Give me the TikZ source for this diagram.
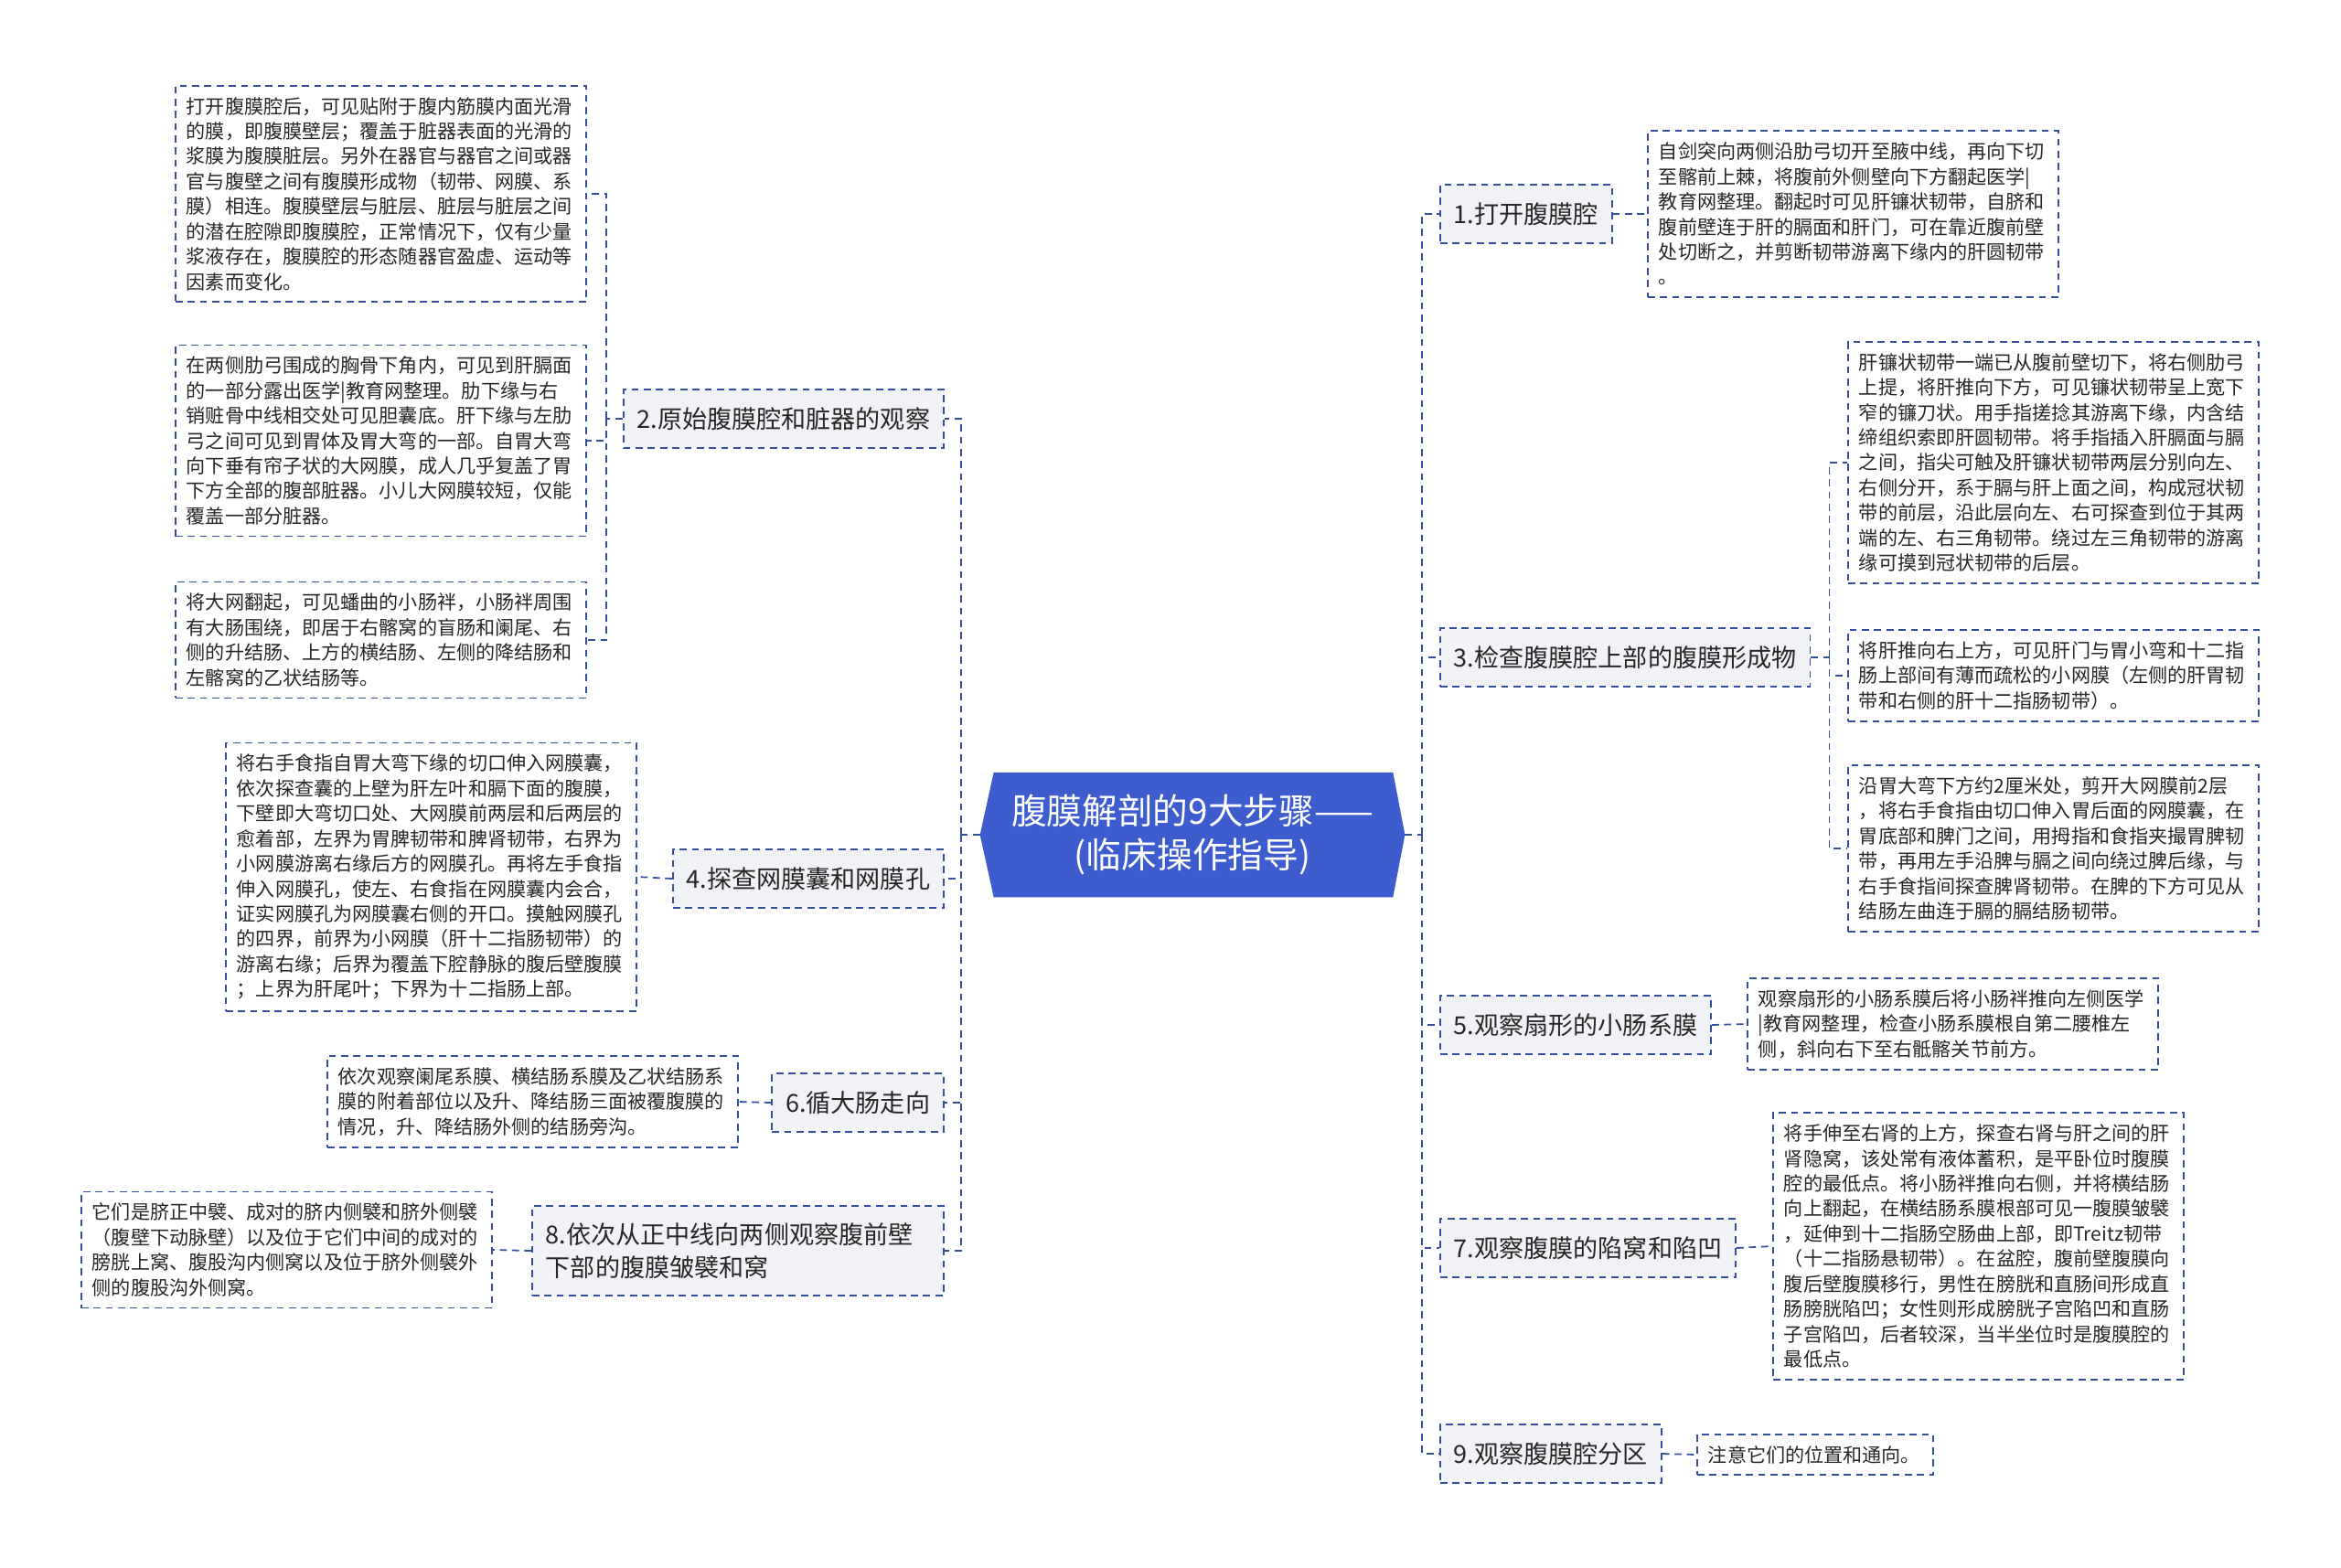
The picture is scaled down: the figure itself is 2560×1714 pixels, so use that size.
\documentclass[tikz,border=0pt]{standalone}
\usepackage{fontspec}
\setmainfont{Noto Sans CJK SC}
\usetikzlibrary{backgrounds}
\definecolor{linkblue}{RGB}{52,78,160}
\definecolor{rootblue}{RGB}{61,92,205}
\definecolor{tagfill}{RGB}{240,242,246}
\begin{document}
\begin{tikzpicture}[x=0.01cm, y=-0.01cm,
        link/.style={draw=linkblue, line width=0.5pt, dash pattern=on 2.2pt off 1.6pt},
        tag/.style={link, fill=tagfill, text=black!85, font=\fontsize{7.7pt}{10.3pt}\selectfont,
            inner xsep=0.15cm, minimum height=0.64cm, align=left},
        detail/.style={link, fill=white, text=black!85, font=\fontsize{6pt}{7.8pt}\selectfont,
            text width=4.25cm, inner xsep=0.12cm, inner ysep=0.125cm, align=left},
        root/.style={text=white, font=\fontsize{11pt}{13.5pt}\selectfont, align=center,
            minimum width=4.63cm, minimum height=1.35cm}]

    \useasboundingbox (0,0) rectangle (2560,1714);

    \node[root] (root) at (1304,913) {腹膜解剖的9大步骤——\\(临床操作指导)};
    \begin{scope}[on background layer]
        \fill[white] (0,0) rectangle (2560,1714);
        \fill[rootblue] (root.west) -- ([xshift=0.15cm]root.north west) -- ([xshift=-0.13cm]root.north east)
            -- (root.east) -- ([xshift=-0.13cm]root.south east) -- ([xshift=0.15cm]root.south west) -- cycle;
    \end{scope}

    \node[tag, anchor=west] (n1) at (1574,234) {1.打开腹膜腔};
    \node[tag, anchor=west] (n3) at (1574,719) {3.检查腹膜腔上部的腹膜形成物};
    \node[tag, anchor=west] (n5) at (1574,1121) {5.观察扇形的小肠系膜};
    \node[tag, anchor=west] (n7) at (1574,1365) {7.观察腹膜的陷窝和陷凹};
    \node[tag, anchor=west] (n9) at (1574,1590) {9.观察腹膜腔分区};

    \node[tag, anchor=east] (n2) at (1033,458) {2.原始腹膜腔和脏器的观察};
    \node[tag, anchor=east] (n4) at (1033,961) {4.探查网膜囊和网膜孔};
    \node[tag, anchor=east] (n6) at (1033,1206) {6.循大肠走向};
    \node[tag, anchor=east, text width=4.2cm, minimum height=0.98cm] (n8) at (1033,1368) {8.依次从正中线向两侧观察腹前壁\\下部的腹膜皱襞和窝};

    \node[detail, anchor=west] (r1) at (1801,234) {自剑突向两侧沿肋弓切开至腋中线，再向下切\\至髂前上棘，将腹前外侧壁向下方翻起医学|\\教育网整理。翻起时可见肝镰状韧带，自脐和\\腹前壁连于肝的膈面和肝门，可在靠近腹前壁\\处切断之，并剪断韧带游离下缘内的肝圆韧带\\。};
    \node[detail, anchor=west] (r3a) at (2020,506) {肝镰状韧带一端已从腹前壁切下，将右侧肋弓\\上提，将肝推向下方，可见镰状韧带呈上宽下\\窄的镰刀状。用手指搓捻其游离下缘，内含结\\缔组织索即肝圆韧带。将手指插入肝膈面与膈\\之间，指尖可触及肝镰状韧带两层分别向左、\\右侧分开，系于膈与肝上面之间，构成冠状韧\\带的前层，沿此层向左、右可探查到位于其两\\端的左、右三角韧带。绕过左三角韧带的游离\\缘可摸到冠状韧带的后层。};
    \node[detail, anchor=west] (r3b) at (2020,739) {将肝推向右上方，可见肝门与胃小弯和十二指\\肠上部间有薄而疏松的小网膜（左侧的肝胃韧\\带和右侧的肝十二指肠韧带）。};
    \node[detail, anchor=west] (r3c) at (2020,928) {沿胃大弯下方约2厘米处，剪开大网膜前2层\\，将右手食指由切口伸入胃后面的网膜囊，在\\胃底部和脾门之间，用拇指和食指夹撮胃脾韧\\带，再用左手沿脾与膈之间向绕过脾后缘，与\\右手食指间探查脾肾韧带。在脾的下方可见从\\结肠左曲连于膈的膈结肠韧带。};
    \node[detail, anchor=west] (r5) at (1910,1120) {观察扇形的小肠系膜后将小肠袢推向左侧医学\\|教育网整理，检查小肠系膜根自第二腰椎左\\侧，斜向右下至右骶髂关节前方。};
    \node[detail, anchor=west] (r7) at (1938,1363) {将手伸至右肾的上方，探查右肾与肝之间的肝\\肾隐窝，该处常有液体蓄积，是平卧位时腹膜\\腔的最低点。将小肠袢推向右侧，并将横结肠\\向上翻起，在横结肠系膜根部可见一腹膜皱襞\\，延伸到十二指肠空肠曲上部，即Treitz韧带\\（十二指肠悬韧带）。在盆腔，腹前壁腹膜向\\腹后壁腹膜移行，男性在膀胱和直肠间形成直\\肠膀胱陷凹；女性则形成膀胱子宫陷凹和直肠\\子宫陷凹，后者较深，当半坐位时是腹膜腔的\\最低点。};
    \node[detail, anchor=west, text width=2.34cm] (r9) at (1855,1591) {注意它们的位置和通向。};

    \node[detail, anchor=east] (l2a) at (642,212) {打开腹膜腔后，可见贴附于腹内筋膜内面光滑\\的膜，即腹膜壁层；覆盖于脏器表面的光滑的\\浆膜为腹膜脏层。另外在器官与器官之间或器\\官与腹壁之间有腹膜形成物（韧带、网膜、系\\膜）相连。腹膜壁层与脏层、脏层与脏层之间\\的潜在腔隙即腹膜腔，正常情况下，仅有少量\\浆液存在，腹膜腔的形态随器官盈虚、运动等\\因素而变化。};
    \node[detail, anchor=east] (l2b) at (642,482) {在两侧肋弓围成的胸骨下角内，可见到肝膈面\\的一部分露出医学|教育网整理。肋下缘与右\\销赃骨中线相交处可见胆囊底。肝下缘与左肋\\弓之间可见到胃体及胃大弯的一部。自胃大弯\\向下垂有帘子状的大网膜，成人几乎复盖了胃\\下方全部的腹部脏器。小儿大网膜较短，仅能\\覆盖一部分脏器。};
    \node[detail, anchor=east] (l2c) at (642,700) {将大网翻起，可见蟠曲的小肠袢，小肠袢周围\\有大肠围绕，即居于右髂窝的盲肠和阑尾、右\\侧的升结肠、上方的横结肠、左侧的降结肠和\\左髂窝的乙状结肠等。};
    \node[detail, anchor=east] (l4) at (697,959) {将右手食指自胃大弯下缘的切口伸入网膜囊，\\依次探查囊的上壁为肝左叶和膈下面的腹膜，\\下壁即大弯切口处、大网膜前两层和后两层的\\愈着部，左界为胃脾韧带和脾肾韧带，右界为\\小网膜游离右缘后方的网膜孔。再将左手食指\\伸入网膜孔，使左、右食指在网膜囊内会合，\\证实网膜孔为网膜囊右侧的开口。摸触网膜孔\\的四界，前界为小网膜（肝十二指肠韧带）的\\游离右缘；后界为覆盖下腔静脉的腹后壁腹膜\\；上界为肝尾叶；下界为十二指肠上部。};
    \node[detail, anchor=east] (l6) at (808,1205) {依次观察阑尾系膜、横结肠系膜及乙状结肠系\\膜的附着部位以及升、降结肠三面被覆腹膜的\\情况，升、降结肠外侧的结肠旁沟。};
    \node[detail, anchor=east] (l8) at (539,1367) {它们是脐正中襞、成对的脐内侧襞和脐外侧襞\\（腹壁下动脉壁）以及位于它们中间的成对的\\膀胱上窝、腹股沟内侧窝以及位于脐外侧襞外\\侧的腹股沟外侧窝。};

    \coordinate (rjoin) at ([xshift=0.19cm]root.east);
    \coordinate (ljoin) at ([xshift=-0.21cm]root.west);
    \draw[link] (root.east) -- (rjoin);
    \draw[link] (root.west) -- (ljoin);
    \foreach \n in {n1,n3,n5,n7,n9}
        \draw[link] (rjoin) |- (\n.west);
    \foreach \n in {n2,n4,n6,n8}
        \draw[link] (ljoin) |- (\n.east);

    \draw[link] (n1.east) -- (r1.west);
    \coordinate (j3) at ([xshift=0.2cm]n3.east);
    \draw[link] (n3.east) -- (j3);
    \foreach \n in {r3a,r3b,r3c}
        \draw[link] (j3) |- (\n.west);
    \draw[link] (n5.east) -- (r5.west);
    \draw[link] (n7.east) -- (r7.west);
    \draw[link] (n9.east) -- (r9.west);

    \coordinate (j2) at ([xshift=-0.18cm]n2.west);
    \draw[link] (n2.west) -- (j2);
    \foreach \n in {l2a,l2b,l2c}
        \draw[link] (j2) |- (\n.east);
    \draw[link] (n4.west) -- (l4.east);
    \draw[link] (n6.west) -- (l6.east);
    \draw[link] (n8.west) -- (l8.east);
\end{tikzpicture}
\end{document}
